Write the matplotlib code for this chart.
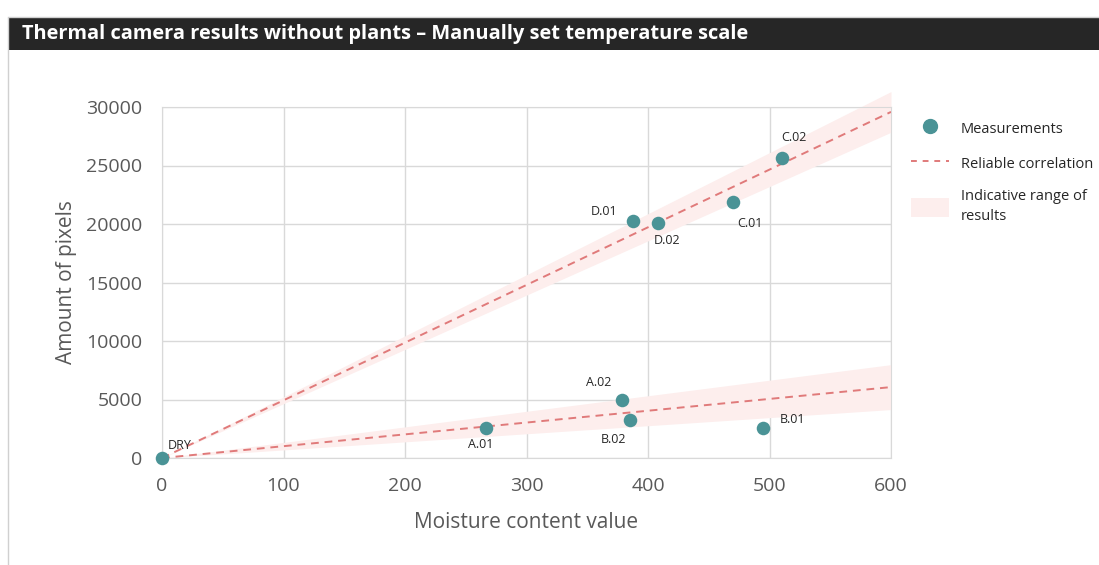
import numpy as np
import matplotlib
matplotlib.use("Agg")
import matplotlib.pyplot as plt
from matplotlib.lines import Line2D
from matplotlib.patches import Patch, Rectangle

# measurements (moisture content value, amount of pixels)
labels = ["DRY", "A.01", "A.02", "B.02", "B.01", "D.01", "D.02", "C.01", "C.02"]
moisture = [0, 267, 379, 385, 495, 388, 408, 470, 510]
pixels = [0, 2600, 5000, 3250, 2600, 20250, 20100, 21850, 25650]

# label offsets in points (dx, dy)
label_dx = [4, -4, -17, -12, 21, -21, 7, 12, 9]
label_dy = [9, -12, 12, -14, 6, 7, -13, -15, 15]

# correlation slopes (pixels per moisture unit) and band half widths
steep_slope, steep_spread = 49.3, 2.9
flat_slope, flat_spread = 10.1, 3.2
x_end = 600

teal = "#4a9396"
red = "#e07a7a"
band = "#fdeeed"
grid_c = "#d9d9d9"
txt = "#595959"

plt.rcParams["font.family"] = ["Open Sans", "DejaVu Sans"]

fig = plt.figure(figsize=(10.99, 5.65), dpi=100)
W, H = 1099, 565

# dark title bar
fig.patches.append(Rectangle((8 / W, 1 - 50 / H), 1 - 8 / W, 32 / H, transform=fig.transFigure,
                             facecolor="#262626", edgecolor="none"))
fig.lines.append(Line2D([8 / W, 8 / W], [0, 1 - 18 / H], transform=fig.transFigure,
                        color="#d0d0d0", lw=1))
fig.lines.append(Line2D([8 / W, 1], [1 - 17 / H, 1 - 17 / H], transform=fig.transFigure,
                        color="#d0d0d0", lw=1))
fig.text(22 / W, 1 - 34 / H, "Thermal camera results without plants \u2013 Manually set temperature scale",
         color="white", fontsize=14.4, fontweight="bold", va="center", ha="left")

ax = fig.add_axes([162 / W, 1 - 458 / H, (891 - 162) / W, (458 - 107) / H])

xs = np.array([0, x_end])
ax.fill_between(xs, (steep_slope - steep_spread) * xs, (steep_slope + steep_spread) * xs,
                color=band, lw=0, zorder=1, clip_on=False)
ax.fill_between(xs, (flat_slope - flat_spread) * xs, (flat_slope + flat_spread) * xs,
                color=band, lw=0, zorder=1, clip_on=False)
ax.plot(xs, steep_slope * xs, ls=(0, (4, 3)), color=red, lw=1.4, zorder=3)
ax.plot(xs, flat_slope * xs, ls=(0, (4, 3)), color=red, lw=1.4, zorder=3)

ax.scatter(moisture, pixels, s=95, color=teal, zorder=4, clip_on=False, lw=0)
for name, mx, py, dx, dy in zip(labels, moisture, pixels, label_dx, label_dy):
    ha = "left" if name == "DRY" else "center"
    ax.annotate(name, (mx, py), xytext=(dx, dy), textcoords="offset points",
                ha=ha, va="center", fontsize=9, color="#262626", zorder=5)

ax.set_xlim(0, 600)
ax.set_ylim(0, 30000)
ax.set_xticks(range(0, 601, 100))
ax.set_yticks(range(0, 30001, 5000))
ax.grid(True, color=grid_c, lw=1)
ax.set_axisbelow(True)
for s in ax.spines.values():
    s.set_color(grid_c)
ax.tick_params(length=0, labelsize=14, colors=txt)
ax.tick_params(axis="x", pad=14)
ax.tick_params(axis="y", pad=14)
ax.set_xlabel("Moisture content value", fontsize=15, color=txt, labelpad=12)
ax.set_ylabel("Amount of pixels", fontsize=15, color=txt, labelpad=7)

handles = [
    Line2D([], [], marker="o", ls="none", color=teal, markersize=10),
    Line2D([], [], ls=(0, (3, 3)), color=red, lw=1.4),
    Patch(facecolor=band, edgecolor="none"),
]
fig.legend(handles, ["Measurements", "Reliable correlation", "Indicative range of\nresults"],
           loc="upper left", bbox_to_anchor=(898 / W, 1 - 106 / H), frameon=False,
           fontsize=10.5, labelcolor="#262626", handlelength=2.6, handleheight=1.6,
           handletextpad=0.8, labelspacing=1.1)
for t in fig.legends[0].get_texts():
    t.set_linespacing(1.5)

fig.savefig("out.png", dpi=100, facecolor="white")
